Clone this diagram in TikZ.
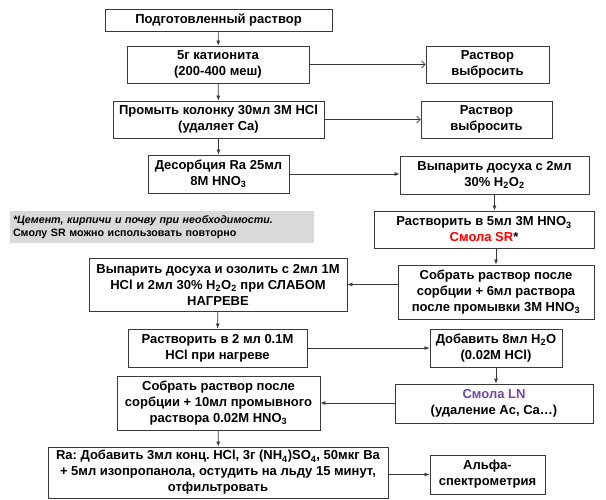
\documentclass[tikz,border=0pt]{standalone}
\usepackage{fontspec}
\setmainfont{Liberation Sans}
\usetikzlibrary{arrows.meta}
\definecolor{edgegray}{HTML}{3A3A3A}
\definecolor{notegray}{HTML}{D9D9D9}
\definecolor{srred}{HTML}{FF0000}
\definecolor{lnpurple}{HTML}{6E4A9E}
\frenchspacing

\begin{document}
\begin{tikzpicture}[x=1pt, y=-1pt, font={\bfseries\fontsize{13}{16}\selectfont},
every node/.style={draw=edgegray, line width=0.9pt, inner sep=0pt, align=center, fill=white}]

\useasboundingbox (0,0) rectangle (606,500);

\path
(218.5,20) node[minimum width=227, minimum height=22] (s1) {Подготовленный раствор}
(218,64.5) node[minimum width=182, minimum height=37] (s2) {5г катионита\\(200-400 меш)}
(487.5,64.5) node[minimum width=123, minimum height=37] (w1) {Раствор\\выбросить}
(218.5,119.5) node[minimum width=211, minimum height=37] (s3) {Промыть колонку 30мл 3М HCl\\(удаляет Ca)}
(486.5,119.5) node[minimum width=131, minimum height=37] (w2) {Раствор\\выбросить}
(218.5,174) node[minimum width=141, minimum height=38] (s4) {Десорбция Ra 25мл\\8M HNO\textsubscript{3}}
(494.5,175) node[minimum width=189, minimum height=38] (s5) {Выпарить досуха с 2мл\\30\% H\textsubscript{2}O\textsubscript{2}}
(484,229.5) node[minimum width=220, minimum height=37] (s6) {Растворить в 5мл 3М HNO\textsubscript{3}\\\textcolor{srred}{Смола SR}*}
(496,292) node[minimum width=196, minimum height=54] (s7) {Собрать раствор после\\сорбции + 6мл раствора\\после промывки 3М HNO\textsubscript{3}}
(218,284.5) node[minimum width=258, minimum height=53] (s8) {Выпарить досуха и озолить с 2мл 1М\\HCl и 2мл 30\% H\textsubscript{2}O\textsubscript{2} при СЛАБОМ\\НАГРЕВЕ}
(217.5,348) node[minimum width=179, minimum height=38] (s9) {Растворить в 2 мл 0.1М\\HCl при нагреве}
(496,348) node[minimum width=132, minimum height=38] (s10) {Добавить 8мл H\textsubscript{2}O\\(0.02M HCl)}
(494,403.5) node[minimum width=198, minimum height=39] (s11) {\textcolor{lnpurple}{Смола LN}\\(удаление Ac, Ca\dots)}
(218.5,403) node[minimum width=203, minimum height=54] (s12) {Собрать раствор после\\сорбции + 10мл промывного\\раствора 0.02M HNO\textsubscript{3}}
(218,472.5) node[minimum width=340, minimum height=51] (s13) {Ra: Добавить 3мл конц. HCl, 3г (NH\textsubscript{4})SO\textsubscript{4}, 50мкг Ba\\+ 5мл изопропанола, остудить на льду 15 минут,\\отфильтровать}
(487.5,474.5) node[minimum width=115, minimum height=39] (s14) {Альфа-\\спектрометрия}
;

% note
\node[draw=none, fill=notegray, text width=298, inner xsep=3pt, minimum height=32, align=left,
font={\bfseries\fontsize{10.7}{12.5}\selectfont}] (note) at (162,227)
{\textit{*Цемент, кирпичи и почву при необходимости.}\\Смолу SR можно использовать повторно};

% waste
\begin{scope}[-{Straight Barb[length=3.5pt, width=7pt]}, draw=edgegray, line width=0.7pt]
\draw (s2) -- (w1);
\draw (s3) -- (w2);
\end{scope}

% main route
\begin{scope}[-{Latex[length=5pt, width=4pt]}, draw=edgegray, line width=0.7pt]
\draw (s1) -- (s2);
\draw (s2) -- (s3);
\draw (s3) -- (s4);
\draw (s4.east) -- (s4.east -| s5.west);
\draw (s5) -- (s5 |- s6.north);
\draw (s7.north |- s6.south) -- (s7.north);
\draw (s7.west |- s8.east) -- (s8.east);
\draw (s8) -- (s9);
\draw (s9) -- (s10);
\draw (s10) -- (s10 |- s11.north);
\draw (s11.west |- s12.east) -- (s12.east);
\draw (s12) -- (s13);
\draw (s13.east |- s14.west) -- (s14.west);
\end{scope}

\end{tikzpicture}
\end{document}
